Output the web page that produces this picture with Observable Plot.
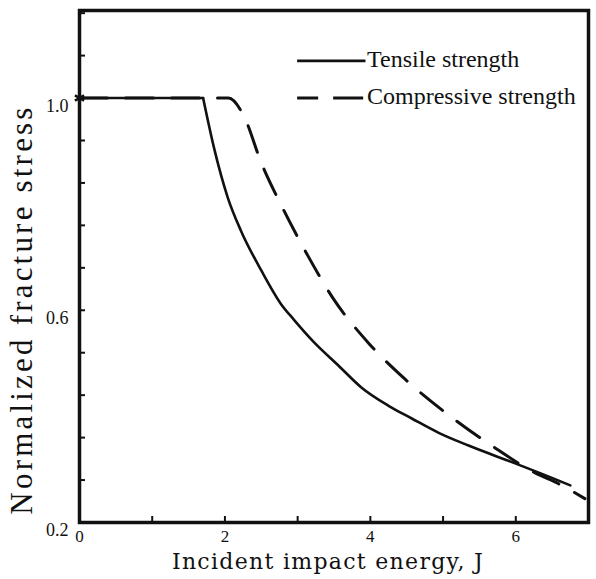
<!DOCTYPE html>
<html>
<head>
<meta charset="utf-8">
<script src="https://cdn.jsdelivr.net/npm/d3@7"></script>
<script src="https://cdn.jsdelivr.net/npm/@observablehq/plot@0.6"></script>
<style>
  html, body { margin: 0; padding: 0; background: #fff; }
</style>
</head>
<body>
<div id="chart"></div>
<script>
// Data
const tensileEnergy = [0, 1.7, 1.85, 2.04, 2.22, 2.5, 2.77, 2.95, 3.23, 3.56, 3.88, 4.25, 4.57, 4.94, 5.35, 6.0, 6.59, 6.75];
const tensileStress = [1.0, 1.0, 0.906, 0.812, 0.75, 0.675, 0.612, 0.582, 0.539, 0.496, 0.454, 0.42, 0.396, 0.369, 0.345, 0.311, 0.279, 0.27];

const compEnergy = [0, 2.05, 2.26, 2.5, 2.8, 3.14, 3.49, 3.97, 4.47, 5.12, 5.71, 6.26, 6.59, 6.95];
const compStress = [1.0, 1.0, 0.966, 0.878, 0.791, 0.703, 0.622, 0.539, 0.471, 0.398, 0.341, 0.294, 0.273, 0.245];

const xTicks = [0, 1, 2, 3, 4, 5, 6, 7];
const xTickLabels = [0, 2, 4, 6];
const yTicks = [0.2, 0.28, 0.36, 0.44, 0.52, 0.6, 0.68, 0.76, 0.84, 0.92, 1.0, 1.08, 1.16];
const yTickLabels = [0.2, 0.6, 1.0];

const legendLabels = ["Tensile strength", "Compressive strength"];
const legendY = [1.07, 1.0];
const legendX = [3.0, 3.94];

const xLabel = "Incident impact energy, J";
const yLabel = "Normalized fracture stress";

const tensile = tensileEnergy.map((x, i) => ({x, y: tensileStress[i]}));
const compressive = compEnergy.map((x, i) => ({x, y: compStress[i]}));
const legend = legendLabels.map((label, i) => ({label, y: legendY[i]}));

const serif = "'Liberation Serif', 'Times New Roman', serif";

const chart = Plot.plot({
  width: 596,
  height: 579,
  marginTop: 10,
  marginLeft: 79,
  marginRight: 8,
  marginBottom: 57,
  style: {background: "#fff", color: "#111", fontFamily: serif},
  x: {domain: [0, 7]},
  y: {domain: [0.2, 1.165]},
  marks: [
    // inward tick marks
    Plot.axisX({ticks: xTicks, tickSize: -6, tickFormat: () => "", strokeWidth: 2, label: null}),
    Plot.axisY({ticks: yTicks, tickSize: -6, tickFormat: () => "", strokeWidth: 2, label: null}),
    // tick labels
    Plot.text(xTickLabels, {x: d => d, frameAnchor: "bottom", lineAnchor: "top", textAnchor: "middle", dy: 7, fontSize: 17, fontFamily: serif, fill: "#111", text: d3.format("d")}),
    Plot.text(yTickLabels, {y: d => d, frameAnchor: "left", lineAnchor: "middle", textAnchor: "end", dx: -11, dy: 8, fontSize: 18, fontFamily: serif, fill: "#111", text: d3.format(".1f")}),
    // axis titles
    Plot.text([xLabel], {frameAnchor: "bottom", lineAnchor: "middle", textAnchor: "middle", dy: 39, dx: -6, fontSize: 22, fontFamily: "'DejaVu Serif', serif", fill: "#111"}),
    Plot.text([yLabel], {frameAnchor: "left", lineAnchor: "middle", textAnchor: "middle", rotate: -90, dx: -57, dy: 43, fontSize: 31, fontFamily: serif, fill: "#111"}),
    // data
    Plot.line(compressive, {x: "x", y: "y", curve: "monotone-x", stroke: "#111", strokeWidth: 3, strokeDasharray: "28,18"}),
    Plot.line(tensile.slice(0, 2), {x: "x", y: "y", stroke: "#111", strokeWidth: 2.6}),
    Plot.line(tensile.slice(1), {x: "x", y: "y", curve: "monotone-x", stroke: "#111", strokeWidth: 2.6}),
    Plot.dot(tensile.slice(0, 1), {x: "x", y: "y", symbol: "asterisk", r: 5, stroke: "#111", strokeWidth: 2.5}),
    // legend
    Plot.ruleY([legendY[0]], {x1: legendX[0], x2: legendX[1], stroke: "#111", strokeWidth: 2.6}),
    Plot.ruleY([legendY[1]], {x1: legendX[0], x2: legendX[1], stroke: "#111", strokeWidth: 3, strokeDasharray: "21,15,30"}),
    Plot.text(legend, {x: legendX[1], y: "y", text: "label", textAnchor: "start", dx: 1, dy: -2, fontSize: 24, fontFamily: serif, fill: "#111"}),
    Plot.frame({stroke: "#111", strokeWidth: 3.5})
  ]
});
// letter spacing for the stretched axis titles
d3.select(chart).selectAll("text").each(function () {
  if (this.textContent === yLabel) this.style.letterSpacing = "3.2px";
  if (this.textContent === xLabel) this.style.letterSpacing = "1.3px";
});
document.getElementById("chart").appendChild(chart);
</script>
</body>
</html>
